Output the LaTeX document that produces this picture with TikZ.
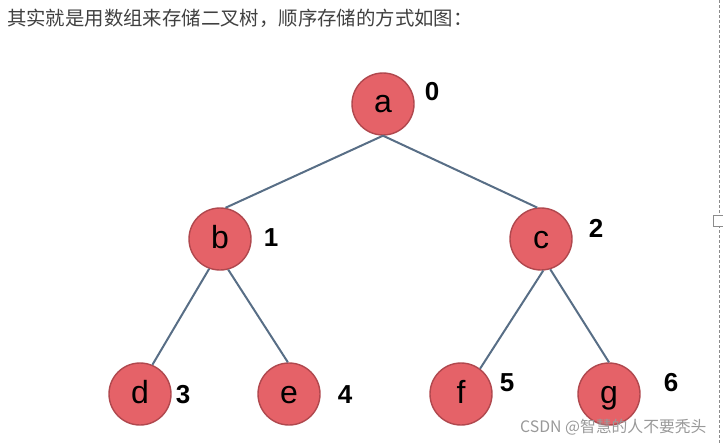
\documentclass[tikz,border=0pt]{standalone}
\usepackage{fontspec}
\setmainfont{Liberation Sans}
\newfontfamily\cjk{Noto Sans CJK SC}
\usetikzlibrary{arrows}

\definecolor{nodered}{RGB}{229,98,104}
\definecolor{noderim}{RGB}{176,72,78}
\definecolor{edgeblue}{RGB}{88,110,134}
\definecolor{titlegray}{RGB}{64,64,64}

\begin{document}
\begin{tikzpicture}[x=1pt,y=-1pt,
    elem/.style={circle,draw=noderim,line width=1.4pt,fill=nodered,
      minimum size=62pt,inner sep=0pt,text height=18pt,text depth=0pt,
      font=\fontsize{32}{32}\selectfont},
    idx/.style={inner sep=0pt,font=\fontsize{26}{26}\selectfont\bfseries},
    link/.style={draw=edgeblue,line width=2pt}]
\useasboundingbox (0,0) rectangle (723,444);

\node[anchor=west,inner sep=0pt,text=titlegray] (title) at (7,18)
    {\fontsize{19.4}{19.4}\selectfont\cjk 其实就是用数组来存储二叉树，顺序存储的方式如图：};

\node[elem] (a) at (383,104) {a};
\node[elem] (b) at (220,239) {b};
\node[elem] (c) at (541,239) {c};
\node[elem] (d) at (140,394) {d};
\node[elem] (e) at (289,394) {e};
\node[elem] (f) at (461,394) {f};
\node[elem] (g) at (609,394) {g};

\node[idx] (n0) at (432,92)  {0};
\node[idx] (n1) at (271,238) {1};
\node[idx] (n2) at (596,228) {2};
\node[idx] (n3) at (183,395) {3};
\node[idx] (n4) at (345,395) {4};
\node[idx] (n5) at (507,383) {5};
\node[idx] (n6) at (671,383) {6};

\draw[link] (a.south) -- (b.80);
\draw[link] (a.south) -- (c.97);
\draw[link] (b.250)   -- (d.67);
\draw[link] (b.285)   -- (e.92);
\draw[link] (c.274)   -- (f.53);
\draw[link] (c.287)   -- (g.90);

\node[anchor=west,inner sep=0pt,text=black!40] (mark) at (520,427)
    {\fontsize{15.8}{15.8}\selectfont\cjk CSDN @智慧的人不要秃头};

% page edge
\draw[black!45,line width=0.8pt,dash pattern=on 3pt off 2pt] (719.5,0) -- (719.5,444);
\draw[black!45,fill=white,line width=0.8pt] (713.5,215) rectangle (723,226);
\end{tikzpicture}
\end{document}
